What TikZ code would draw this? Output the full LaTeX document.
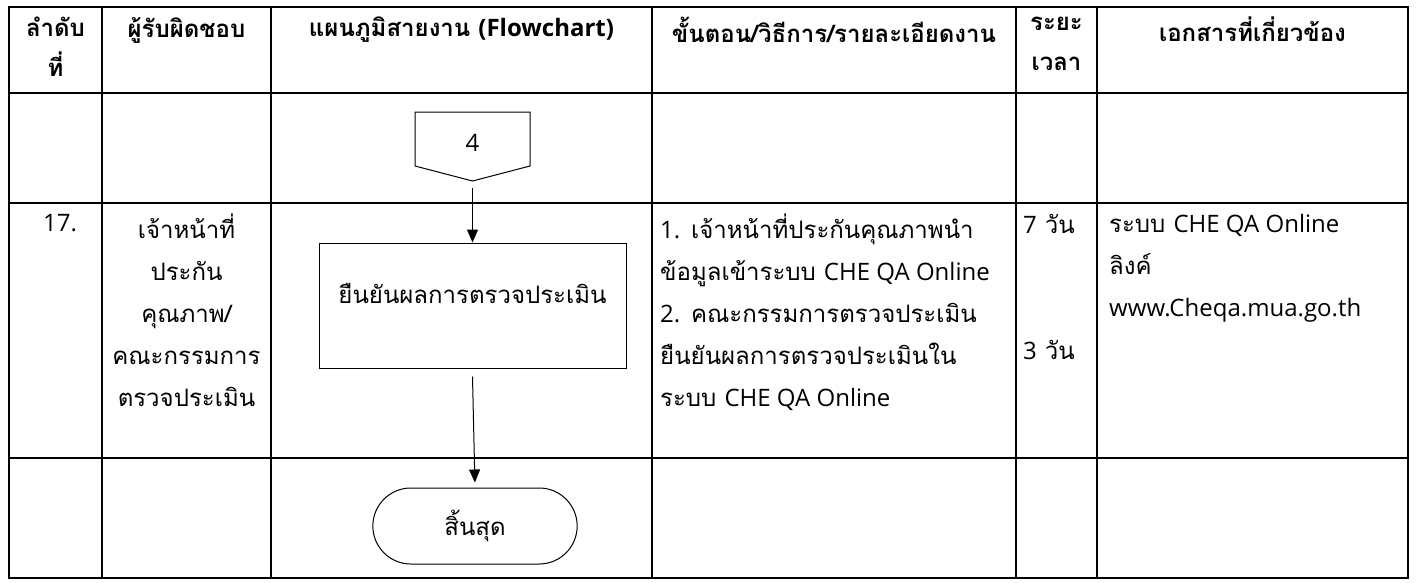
\documentclass[tikz,border=0pt]{standalone}
\usepackage{fontspec}
\setmainfont{Loma}[Script=Thai]
\newfontfamily\latinfont{Open Sans}
\newcommand{\latn}[1]{{\latinfont#1}}
\usetikzlibrary{arrows.meta,positioning,calc,shapes.misc}
\tikzset{
  gridline/.style={line width=1.8pt,line cap=rect},
  hdtext/.style={font=\fontsize{24}{40}\selectfont\bfseries,align=center,
    inner sep=0pt,anchor=north},
  celltext/.style={font=\fontsize{24}{42}\selectfont,inner sep=0pt},
  conntext/.style={inner sep=0pt,font=\fontsize{24}{28}\selectfont},
  procbox/.style={rectangle,draw,line width=1pt,minimum width=307pt,
    minimum height=125pt,text height=12pt,text depth=16pt,
    font=\fontsize{24}{28}\selectfont},
  termnode/.style={rounded rectangle,draw,line width=1pt,minimum width=211pt,
    minimum height=76pt,font=\fontsize{24}{28}\selectfont},
  flowedge/.style={-{Triangle[length=13pt,width=11pt]},line width=1pt},
}

\begin{document}
\begin{tikzpicture}[x=1pt,y=-1pt]
  \useasboundingbox (0,0) rectangle (1416,582);
  \draw[gridline] (9,7) rectangle (1408,578);
  \foreach \x in {102,271,652,1016,1097} \draw[gridline] (\x,7) -- (\x,578);
  \foreach \y in {93,203,458} \draw[gridline] (9,\y) -- (1408,\y);

  \node[hdtext] (h1) at (55.5,17) {ลำดับ\\ที่};
  \node[hdtext] (h2) at (186.5,17) {ผู้รับผิดชอบ};
  \node[hdtext] (h3) at (461.5,17) {แผนภูมิสายงาน \latn{(Flowchart)}};
  \node[hdtext] (h4) at (834,17) {ขั้นตอน/วิธีการ/รายละเอียดงาน};
  \node[hdtext] (h5) at (1056.5,17) {ระยะ\\เวลา};
  \node[hdtext] (h6) at (1252.5,17) {เอกสารที่เกี่ยวข้อง};

  \node[celltext,anchor=north] (no17) at (60,214) {\latn{17.}};
  \node[celltext,anchor=north,align=center] (resp) at (186.5,214)
    {เจ้าหน้าที่\\ประกัน\\คุณภาพ/\\คณะกรรมการ\\ตรวจประเมิน};
  \node[celltext,anchor=north west,align=left] (steps) at (660,214)
    {\latn{1.} เจ้าหน้าที่ประกันคุณภาพนำ\\ข้อมูลเข้าระบบ \latn{CHE QA Online}\\\latn{2.} คณะกรรมการตรวจประเมิน\\ยืนยันผลการตรวจประเมินใน\\ระบบ \latn{CHE QA Online}};
  \node[celltext,anchor=north] (t7) at (1049,214) {\latn{7} วัน};
  \node[celltext,anchor=north] (t3) at (1049,340) {\latn{3} วัน};
  \node[celltext,anchor=north west,align=left] (docs) at (1109,214)
    {ระบบ \latn{CHE QA Online}\\ลิงค์\\\latn{www.Cheqa.mua.go.th}};

  \node[conntext] (c4) at (472.5,143) {\latn{4}};
  \draw[line width=1pt] ($(c4)+(-57.5,-31)$) -- ($(c4)+(57.5,-31)$)
    -- ($(c4)+(57.5,23)$) -- ($(c4)+(0,38)$) -- ($(c4)+(-57.5,23)$) -- cycle;
  \coordinate (c4tip) at ($(c4)+(0,38)$);
  \node[procbox] (proc) at (472.5,305.5) {ยืนยันผลการตรวจประเมิน};
  \node[termnode] (endn) at (475,526) {สิ้นสุด};

  \draw[flowedge] ([yshift=-7pt]c4tip) -- (proc.north);
  \draw[flowedge,shorten >=5pt] ([yshift=-8pt]proc.south) -- (endn.north);
\end{tikzpicture}
\end{document}
